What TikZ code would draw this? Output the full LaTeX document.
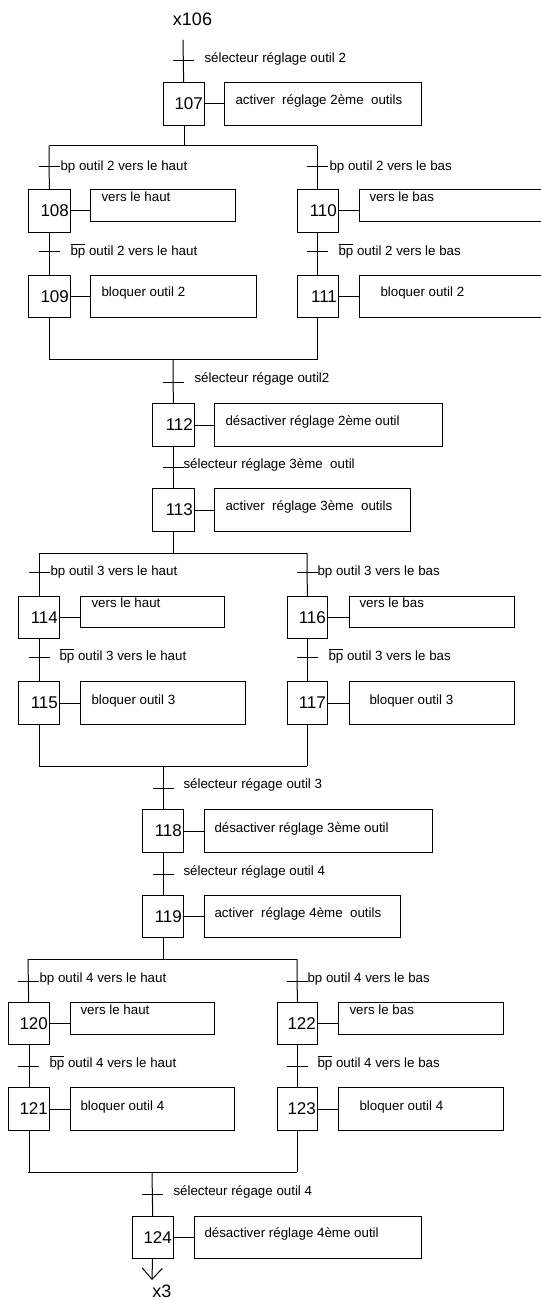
\documentclass[tikz,border=0pt]{standalone}
\usepackage{fontspec}
\setmainfont{Liberation Sans}
\usetikzlibrary{arrows.meta}
\newcommand\barbp{\vbox{\hrule height .6pt\kern 1.2pt\hbox{bp}}}
\begin{document}
\begin{tikzpicture}[x=0.75pt,y=-0.75pt,line width=0.75pt,
  stepbox/.style={draw,anchor=north west,align=right,inner xsep=1.2pt,inner ysep=0pt,
    font=\fontsize{12.75}{14}\selectfont},
  actbox/.style={draw,anchor=north west,inner sep=0pt},
  lbl/.style={anchor=west,inner sep=0pt,font=\fontsize{10}{12}\selectfont},
  acttxt/.style={anchor=west,inner sep=0pt,font=\fontsize{10}{12}\selectfont},
  endtxt/.style={inner sep=0pt,font=\fontsize{13.5}{15}\selectfont}]
\useasboundingbox (0,0) rectangle (541,1301);
\clip (0,0) rectangle (541,1301);
\tikzset{
  step/.code={},
}
% helper macro for a transition bar
\newcommand\trbar[1]{\draw (#1) ++(-10.5,0) -- ++(21,0);}
\newcommand\stepnode[6]{% name, x, y, w, h, number
  \node[stepbox,text width=#4*0.75pt-2.4pt,minimum height=#5*0.75pt] (#1) at (#2,#3) {#6};}
\newcommand\actnode[5]{% name, x, y, w, h
  \node[actbox,minimum width=#4*0.75pt,minimum height=#5*0.75pt] (#1) at (#2,#3) {};}
\newcommand\link[2]{\draw (#1.east) -- (#1.east -| #2.west);}

% ---------- top ----------
\node[endtxt] (x106) at (192.5,19) {x106};
\coordinate (t0) at (183,40);
\coordinate (tr1) at (183,61);
\node[lbl] (l1) at (204,59) {sélecteur réglage outil 2};
\stepnode{s107}{163}{82}{41}{43}{107}
\actnode{a107}{224}{82}{197}{43}
\node[acttxt] at (235,101) {activer\ \ réglage 2ème\ \ outils};
\draw (t0) -- (s107);
\trbar{tr1}
\link{s107}{a107}

% divergence 1
\coordinate (d1L) at (49,146);
\coordinate (d1R) at (317,146);
\draw (s107) -- (s107 |- d1L);
\draw (d1L) -- (d1R);
% left branch
\stepnode{s108}{28}{189}{42}{43}{108}
\actnode{a108}{90}{189}{145}{32}
\node[acttxt] at (101,197) {vers le haut};
\coordinate (tr2) at (49,167);
\node[lbl] at (60,167) {bp outil 2 vers le haut};
\draw (d1L) -- (s108);
\trbar{tr2}
\link{s108}{a108}
\stepnode{s109}{28}{275}{42}{42}{109}
\actnode{a109}{90}{275}{166}{42}
\node[acttxt] at (101,293) {bloquer outil 2};
\coordinate (tr3) at (49,252);
\node[lbl] at (70,251) {\barbp\ outil 2 vers le haut};
\draw (s108) -- (s109);
\trbar{tr3}
\link{s109}{a109}
% right branch
\stepnode{s110}{297}{189}{41}{43}{110}
\actnode{a110}{359}{189}{220}{32}
\node[acttxt] at (369,197) {vers le bas};
\coordinate (tr4) at (317,167);
\node[lbl] at (329,167) {bp outil 2 vers le bas};
\draw (d1R) -- (d1R |- s110.north);
\trbar{tr4}
\link{s110}{a110}
\stepnode{s111}{297}{275}{41}{42}{111}
\actnode{a111}{359}{275}{220}{42}
\node[acttxt] at (380,293) {bloquer outil 2};
\coordinate (tr5) at (317,252);
\node[lbl] at (338,251) {\barbp\ outil 2 vers le bas};
\draw (s110.south -| d1R) -- (s111.north -| d1R);
\trbar{tr5}
\link{s111}{a111}
% convergence 1
\coordinate (c1L) at (49,360);
\coordinate (c1R) at (317,360);
\coordinate (c1M) at (173,360);
\draw (s109) -- (s109 |- c1L);
\draw (s111.south -| c1R) -- (c1R);
\draw (c1L) -- (c1R);

% ---------- middle 1 ----------
\stepnode{s112}{152}{403}{42}{43}{112}
\actnode{a112}{214}{403}{228}{43}
\node[acttxt] at (225,422) {désactiver réglage 2ème outil};
\coordinate (tr6) at (173,382);
\node[lbl] at (194,379) {sélecteur régage outil2};
\draw (c1M) -- (s112);
\trbar{tr6}
\link{s112}{a112}
\stepnode{s113}{152}{488}{42}{43}{113}
\actnode{a113}{214}{488}{196}{43}
\node[acttxt] at (225,507) {activer\ \ réglage 3ème\ \ outils};
\coordinate (tr7) at (173,467);
\node[lbl] at (183,465) {sélecteur réglage 3ème\ \ outil};
\draw (s112) -- (s113);
\trbar{tr7}
\link{s113}{a113}

% divergence 2
\coordinate (d2L) at (39,553);
\coordinate (d2R) at (307,553);
\draw (s113) -- (s113 |- d2L);
\draw (d2L) -- (d2R);
% left
\stepnode{s114}{18}{596}{41}{42}{114}
\actnode{a114}{80}{596}{144}{31}
\node[acttxt] at (91,603) {vers le haut};
\coordinate (tr8) at (39,572);
\node[lbl] at (50,572) {bp outil 3 vers le haut};
\draw (d2L) -- (s114);
\trbar{tr8}
\link{s114}{a114}
\stepnode{s115}{18}{681}{41}{43}{115}
\actnode{a115}{80}{681}{165}{43}
\node[acttxt] at (91,701) {bloquer outil 3};
\coordinate (tr9) at (39,657);
\node[lbl] at (59,656) {\barbp\ outil 3 vers le haut};
\draw (s114) -- (s115);
\trbar{tr9}
\link{s115}{a115}
% right
\stepnode{s116}{287}{596}{40}{42}{116}
\actnode{a116}{349}{596}{165}{31}
\node[acttxt] at (359,603) {vers le bas};
\coordinate (tr10) at (307,572);
\node[lbl] at (317,572) {bp outil 3 vers le bas};
\draw (d2R) -- (s116);
\trbar{tr10}
\link{s116}{a116}
\stepnode{s117}{287}{681}{40}{43}{117}
\actnode{a117}{349}{681}{165}{43}
\node[acttxt] at (369,701) {bloquer outil 3};
\coordinate (tr11) at (307,657);
\node[lbl] at (328,656) {\barbp\ outil 3 vers le bas};
\draw (s116) -- (s117);
\trbar{tr11}
\link{s117}{a117}
% convergence 2
\coordinate (c2L) at (39,766);
\coordinate (c2R) at (307,766);
\coordinate (c2M) at (163,766);
\draw (s115) -- (s115 |- c2L);
\draw (s117) -- (s117 |- c2R);
\draw (c2L) -- (c2R);

% ---------- middle 2 ----------
\stepnode{s118}{142}{809}{41}{43}{118}
\actnode{a118}{204}{809}{228}{43}
\node[acttxt] at (214,829) {désactiver réglage 3ème outil};
\coordinate (tr12) at (163,788);
\node[lbl] at (183,785) {sélecteur régage outil 3};
\draw (c2M) -- (s118);
\trbar{tr12}
\link{s118}{a118}
\stepnode{s119}{142}{895}{41}{42}{119}
\actnode{a119}{204}{895}{196}{42}
\node[acttxt] at (214,914) {activer\ \ réglage 4ème\ \ outils};
\coordinate (tr13) at (163,874);
\node[lbl] at (183,872) {sélecteur réglage outil 4};
\draw (s118) -- (s119);
\trbar{tr13}
\link{s119}{a119}

% divergence 3
\coordinate (d3L) at (28,959);
\coordinate (d3R) at (297,959);
\draw (s119) -- (s119 |- d3L);
\draw (d3L) -- (d3R);
% left
\stepnode{s120}{8}{1002}{41}{42}{120}
\actnode{a120}{70}{1002}{144}{32}
\node[acttxt] at (80,1010) {vers le haut};
\coordinate (tr14) at (28,981);
\node[lbl] at (39,979) {bp outil 4 vers le haut};
\draw (d3L) -- (s120);
\trbar{tr14}
\link{s120}{a120}
\stepnode{s121}{8}{1087}{41}{43}{121}
\actnode{a121}{70}{1087}{164}{43}
\node[acttxt] at (80,1107) {bloquer outil 4};
\coordinate (tr15) at (28,1066);
\node[lbl] at (49,1063) {\barbp\ outil 4 vers le haut};
\draw (s120) -- (s121);
\trbar{tr15}
\link{s121}{a121}
% right
\stepnode{s122}{277}{1002}{40}{42}{122}
\actnode{a122}{338}{1002}{165}{32}
\node[acttxt] at (349,1010) {vers le bas};
\coordinate (tr16) at (297,981);
\node[lbl] at (307,979) {bp outil 4 vers le bas};
\draw (d3R) -- (s122);
\trbar{tr16}
\link{s122}{a122}
\stepnode{s123}{277}{1087}{40}{43}{123}
\actnode{a123}{338}{1087}{165}{43}
\node[acttxt] at (359,1107) {bloquer outil 4};
\coordinate (tr17) at (297,1066);
\node[lbl] at (317,1063) {\barbp\ outil 4 vers le bas};
\draw (s122) -- (s123);
\trbar{tr17}
\link{s123}{a123}
% convergence 3
\coordinate (c3L) at (28,1172);
\coordinate (c3R) at (297,1172);
\coordinate (c3M) at (152,1172);
\draw (s121) -- (s121 |- c3L);
\draw (s123) -- (s123 |- c3R);
\draw (c3L) -- (c3R);

% ---------- bottom ----------
\stepnode{s124}{132}{1216}{41}{42}{124}
\actnode{a124}{194}{1216}{227}{42}
\node[acttxt] at (204,1234) {désactiver réglage 4ème outil};
\coordinate (tr18) at (152,1194);
\node[lbl] at (173,1192) {sélecteur régage outil 4};
\draw (c3M) -- (s124);
\trbar{tr18}
\link{s124}{a124}
\coordinate (tip) at (152,1280);
\draw[-{Straight Barb[length=8.25pt,width=15pt]}] (s124) -- (tip);
\node[endtxt] (x3) at (162,1291) {x3};
\end{tikzpicture}
\end{document}
